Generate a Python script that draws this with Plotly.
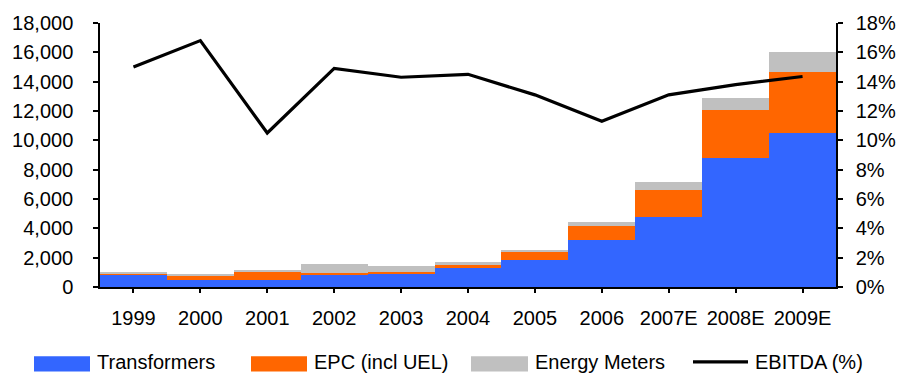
import plotly.graph_objects as go

# Revenue split by segment (Rs mn) and EBITDA margin
years = ["1999", "2000", "2001", "2002", "2003", "2004", "2005", "2006",
         "2007E", "2008E", "2009E"]
transformers = [790, 450, 450, 790, 920, 1325, 1865, 3215, 4785, 8765, 10515]
epc = [155, 335, 605, 155, 135, 160, 560, 945, 1800, 3300, 4160]
energy_meters = [110, 135, 135, 650, 405, 245, 110, 270, 605, 855, 1325]
ebitda_pct = [15.0, 16.8, 10.5, 14.9, 14.3, 14.5, 13.1, 11.3, 13.1, 13.8, 14.35]

left_ticks = list(range(0, 18001, 2000))
right_ticks = [v / 100 for v in range(0, 19, 2)]

BLUE = "#3366FF"
ORANGE = "#FF6600"
GREY = "#C0C0C0"
FONT = dict(family="Liberation Sans, Arial, sans-serif", size=20, color="#000000")

W, H = 910, 374
ML, MR, MT, MB = 100, 74, 20, 87

xs = list(range(len(years)))
bounds = [i - 0.5 for i in range(len(years) + 1)]
xr = [-0.5, len(years) - 0.5]

fig = go.Figure()
for name, vals, col in [("Transformers", transformers, BLUE),
                        ("EPC (incl UEL)", epc, ORANGE),
                        ("Energy Meters", energy_meters, GREY)]:
    fig.add_trace(go.Bar(x=xs, y=vals, name=name, width=1,
                         marker=dict(color=col, line=dict(width=0)),
                         showlegend=False))
fig.add_trace(go.Scatter(x=xs, y=[v / 100 for v in ebitda_pct], yaxis="y2",
                         mode="lines", name="EBITDA (%)",
                         line=dict(color="#000000", width=3.2),
                         showlegend=False))

axis_common = dict(showgrid=False, zeroline=False, tickcolor="#000000",
                   linecolor="#000000", linewidth=1.5, tickwidth=1.5,
                   tickfont=FONT)

fig.update_layout(
    width=W, height=H,
    margin=dict(l=ML, r=MR, t=MT, b=MB),
    paper_bgcolor="white", plot_bgcolor="white",
    barmode="stack", bargap=0,
    font=FONT,
    xaxis=dict(**axis_common, range=xr, tickmode="array", tickvals=xs,
               ticktext=years, ticks="outside", ticklen=4, showline=True,
               ticklabelstandoff=8),
    xaxis2=dict(**axis_common, range=xr, overlaying="x", anchor="y",
                side="bottom", tickmode="array", tickvals=xs, ticks="inside",
                ticklen=4, showticklabels=False, showline=False),
    xaxis3=dict(**axis_common, range=xr, overlaying="x", anchor="y",
                side="bottom", tickmode="array", tickvals=bounds,
                ticks="outside", ticklen=6, showticklabels=False,
                showline=False),
    xaxis4=dict(**axis_common, range=xr, overlaying="x", anchor="y",
                side="bottom", tickmode="array", tickvals=bounds,
                ticks="inside", ticklen=6, showticklabels=False,
                showline=False),
    yaxis=dict(**axis_common, range=[0, 18000], tickmode="array",
               tickvals=left_ticks, tickformat=",d", ticks="outside",
               ticklen=5, showline=True, ticklabelstandoff=16),
    yaxis2=dict(**axis_common, range=[0, 0.18], overlaying="y", side="right",
                anchor="x", tickmode="array", tickvals=right_ticks,
                tickformat=".0%", ticks="outside", ticklen=5, showline=True,
                ticklabelstandoff=9),
    yaxis3=dict(**axis_common, range=[0, 18000], overlaying="y", side="left",
                anchor="x", tickmode="array", tickvals=left_ticks,
                ticks="inside", ticklen=6, showticklabels=False,
                showline=False),
    yaxis4=dict(**axis_common, range=[0, 0.18], overlaying="y", side="right",
                anchor="x", tickmode="array", tickvals=right_ticks,
                ticks="inside", ticklen=5, showticklabels=False,
                showline=False),
)

# Legend row below the chart, built from shapes and text
pw, ph = W - ML - MR, H - MT - MB


def px(x):
    return (x - ML) / pw


def py(y):
    return (H - MB - y) / ph


shapes = []
annotations = []
legend_items = [("Transformers", BLUE, 34, 90, 96),
                ("EPC (incl UEL)", ORANGE, 251, 307, 313),
                ("Energy Meters", GREY, 471, 528, 534)]
for label, col, x0, x1, tx in legend_items:
    shapes.append(dict(type="rect", xref="paper", yref="paper",
                       x0=px(x0), x1=px(x1), y0=py(372.5), y1=py(357),
                       fillcolor=col, line=dict(width=0), layer="above"))
    annotations.append(dict(text=label, xref="paper", yref="paper",
                            x=px(tx), y=py(363), xanchor="left",
                            yanchor="middle", showarrow=False, font=FONT,
                            borderpad=0))
shapes.append(dict(type="line", xref="paper", yref="paper",
                   x0=px(693), x1=px(748), y0=py(362.7), y1=py(362.7),
                   line=dict(color="#000000", width=3.2)))
annotations.append(dict(text="EBITDA (%)", xref="paper", yref="paper",
                        x=px(754), y=py(363), xanchor="left",
                        yanchor="middle", showarrow=False, font=FONT,
                        borderpad=0))
fig.update_layout(shapes=shapes, annotations=annotations)

fig.write_html("out.html")
